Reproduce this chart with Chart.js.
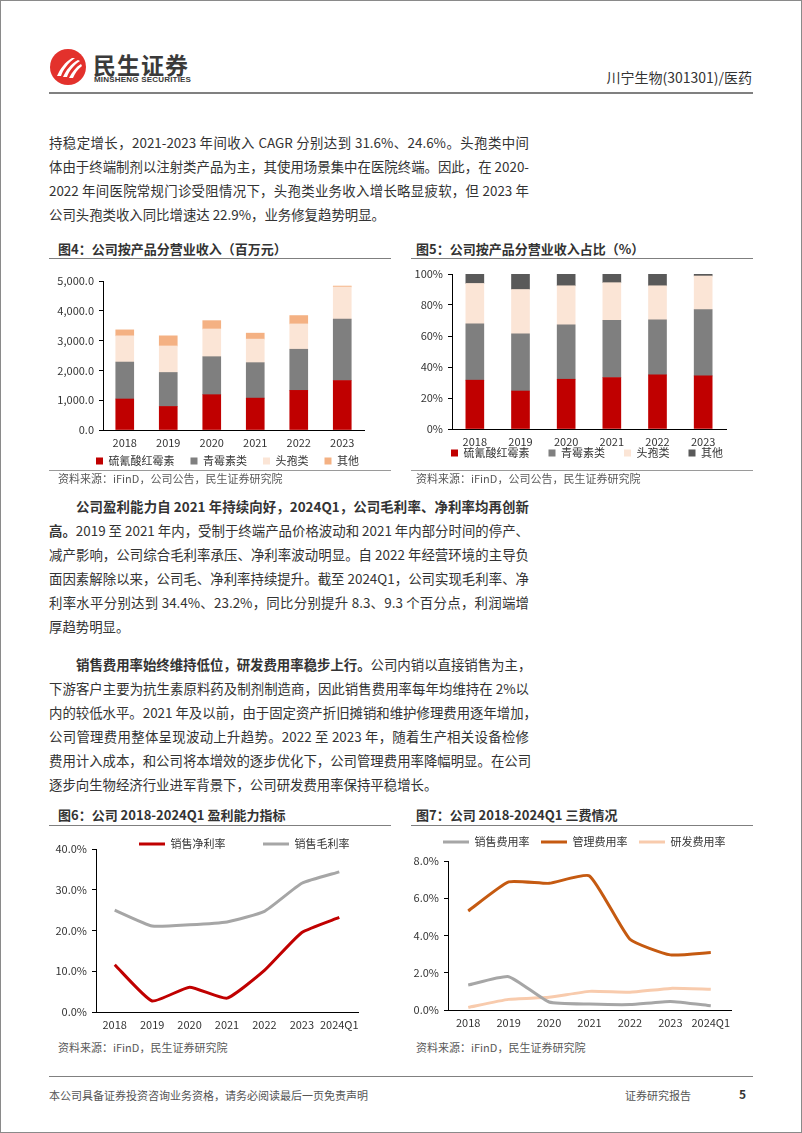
<!DOCTYPE html>
<html lang="zh-CN">
<head>
<meta charset="UTF-8">
<title>川宁生物(301301)/医药</title>
<script src="https://cdn.jsdelivr.net/npm/chart.js"></script>
<style>
    body { margin: 0; background: #fff; font-family: "Noto Sans CJK SC", sans-serif; color: #333; }
    .page { position: relative; width: 802px; height: 1133px; box-sizing: border-box; border: 1px solid #8a8a8a; overflow: hidden; }
    .abs { position: absolute; }
    .brand { left: 92px; top: 50px; font-size: 23px; font-weight: bold; color: #3a3a3a; letter-spacing: 1px; line-height: 26px; }
    .brand-en { left: 93px; top: 74px; font-size: 8px; font-weight: bold; color: #3a3a3a; line-height: 10px; font-family: "Liberation Sans Narrow", "Liberation Sans", sans-serif; letter-spacing: 0.2px; }
    .stock { right: 49px; top: 67px; font-size: 14px; color: #333; line-height: 18px; }
    .rule { height: 0; border-top: 2px solid #808080; }
    .para { left: 48px; width: 480px; font-size: 13.4px; color: #333; }
    .ln { height: 24px; line-height: 24px; white-space: nowrap; text-align: justify; text-align-last: justify; }
    .ln.last { text-align-last: left; }
    .ln.ind { padding-left: 27px; }
    .title { font-size: 13px; font-weight: bold; color: #333; line-height: 16px; }
    .trule { height: 0; border-top: 1.5px solid #7f7f7f; }
    .brule { height: 0; border-top: 1px solid #9a9a9a; }
    .src { font-size: 11px; color: #595959; line-height: 14px; }
    .foot { font-size: 11px; color: #555; line-height: 14px; }
    canvas { position: absolute; }
</style>
</head>
<body>
<div class="page">
    <!-- 页眉 -->
    <svg class="abs" style="left:49px;top:48px" width="36" height="36" viewBox="0 0 36 36">
        <circle cx="18" cy="18" r="18" fill="#e3312c"/>
        <path d="M7 27 C10 20 15 13 22 9 L25 9 C18 14 13 21 11 27 Z" fill="#fff"/>
        <path d="M13 28 C16 21 21 15 28 11 L30 12 C24 16 19 22 17 28 Z" fill="#fff"/>
        <path d="M19 29 C22 23 26 18 31 15 L32 17 C28 20 25 24 23 29 Z" fill="#fff"/>
    </svg>
    <div class="abs brand">民生证券</div>
    <div class="abs brand-en">MINSHENG SECURITIES</div>
    <div class="abs stock">川宁生物(301301)/医药</div>
    <div class="abs rule" style="left:48px;top:91px;width:704px"></div>

    <!-- 正文 1 -->
    <div class="abs para" style="top:129px">
        <div class="ln">持稳定增长，2021-2023 年间收入 CAGR 分别达到 31.6%、24.6%。头孢类中间</div>
        <div class="ln">体由于终端制剂以注射类产品为主，其使用场景集中在医院终端。因此，在 2020-</div>
        <div class="ln">2022 年间医院常规门诊受阻情况下，头孢类业务收入增长略显疲软，但 2023 年</div>
        <div class="ln last">公司头孢类收入同比增速达 22.9%，业务修复趋势明显。</div>
    </div>

    <!-- 图4 / 图5 -->
    <div class="abs title" style="left:57px;top:240px">图4：公司按产品分营业收入（百万元）</div>
    <div class="abs trule" style="left:48px;top:257px;width:342px"></div>
    <div class="abs title" style="left:415px;top:240px">图5：公司按产品分营业收入占比（%）</div>
    <div class="abs trule" style="left:410px;top:257px;width:342px"></div>
    <div class="abs brule" style="left:48px;top:469px;width:342px"></div>
    <div class="abs brule" style="left:410px;top:469px;width:342px"></div>
    <canvas id="fig4" width="342" height="215" style="left:48px;top:261px"></canvas>
    <canvas id="fig5" width="342" height="207" style="left:410px;top:261px"></canvas>
    <div class="abs src" style="left:57px;top:470px">资料来源：iFinD，公司公告，民生证券研究院</div>
    <div class="abs src" style="left:415px;top:470px">资料来源：iFinD，公司公告，民生证券研究院</div>

    <!-- 正文 2 -->
    <div class="abs para" style="top:493px">
        <div class="ln ind"><b>公司盈利能力自 2021 年持续向好，2024Q1，公司毛利率、净利率均再创新</b></div>
        <div class="ln"><b>高。</b>2019 至 2021 年内，受制于终端产品价格波动和 2021 年内部分时间的停产、</div>
        <div class="ln">减产影响，公司综合毛利率承压、净利率波动明显。自 2022 年经营环境的主导负</div>
        <div class="ln">面因素解除以来，公司毛、净利率持续提升。截至 2024Q1，公司实现毛利率、净</div>
        <div class="ln">利率水平分别达到 34.4%、23.2%，同比分别提升 8.3、9.3 个百分点，利润端增</div>
        <div class="ln last">厚趋势明显。</div>
    </div>

    <!-- 正文 3 -->
    <div class="abs para" style="top:651px">
        <div class="ln ind"><b>销售费用率始终维持低位，研发费用率稳步上行。</b>公司内销以直接销售为主，</div>
        <div class="ln">下游客户主要为抗生素原料药及制剂制造商，因此销售费用率每年均维持在 2%以</div>
        <div class="ln">内的较低水平。2021 年及以前，由于固定资产折旧摊销和维护修理费用逐年增加，</div>
        <div class="ln">公司管理费用整体呈现波动上升趋势。2022 至 2023 年，随着生产相关设备检修</div>
        <div class="ln">费用计入成本，和公司将本增效的逐步优化下，公司管理费用率降幅明显。在公司</div>
        <div class="ln last">逐步向生物经济行业进军背景下，公司研发费用率保持平稳增长。</div>
    </div>

    <!-- 图6 / 图7 -->
    <div class="abs title" style="left:57px;top:806px">图6：公司 2018-2024Q1 盈利能力指标</div>
    <div class="abs trule" style="left:48px;top:824px;width:342px"></div>
    <div class="abs title" style="left:415px;top:806px">图7：公司 2018-2024Q1 三费情况</div>
    <div class="abs trule" style="left:410px;top:824px;width:342px"></div>
    <canvas id="fig6" width="342" height="205" style="left:48px;top:829px"></canvas>
    <canvas id="fig7" width="342" height="205" style="left:410px;top:829px"></canvas>
    <div class="abs src" style="left:57px;top:1039px">资料来源：iFinD，民生证券研究院</div>
    <div class="abs src" style="left:415px;top:1039px">资料来源：iFinD，民生证券研究院</div>

    <!-- 页脚 -->
    <div class="abs rule" style="left:48px;top:1075px;width:704px;border-top-width:1.5px"></div>
    <div class="abs foot" style="left:48px;top:1087px">本公司具备证券投资咨询业务资格，请务必阅读最后一页免责声明</div>
    <div class="abs foot" style="left:624px;top:1087px">证券研究报告</div>
    <div class="abs foot" style="left:738px;top:1086px;font-size:12px;font-weight:bold;color:#333">5</div>
</div>

<script>
    // 图4：分产品营业收入（百万元）
    const years = ['2018', '2019', '2020', '2021', '2022', '2023'];
    const revErythro = [1040, 790, 1185, 1070, 1330, 1660];
    const revPenicillin = [1240, 1140, 1275, 1190, 1380, 2060];
    const revCephalo = [880, 890, 930, 790, 850, 1080];
    const revOther = [200, 340, 280, 200, 280, 30];
    const revTicks = [0, 1000, 2000, 3000, 4000, 5000];

    // 图5：分产品营业收入占比（%）
    const shareErythro = [31.5, 24.5, 32.1, 33.2, 34.9, 34.3];
    const sharePenicillin = [36.4, 36.9, 35.1, 36.9, 35.6, 42.7];
    const shareCephalo = [26.0, 28.6, 25.2, 24.3, 21.9, 21.7];
    const shareOther = [6.1, 10.0, 7.6, 5.6, 7.6, 1.3];
    const shareTicks = [0, 20, 40, 60, 80, 100];

    // 图6：盈利能力（%）
    const periods = ['2018', '2019', '2020', '2021', '2022', '2023', '2024Q1'];
    const netMargin = [11.6, 2.7, 6.1, 3.4, 10.2, 19.5, 23.2];
    const grossMargin = [25.0, 21.1, 21.4, 22.1, 24.7, 31.6, 34.4];
    const marginTicks = [0, 10, 20, 30, 40];

    // 图7：三费（%）
    const sellRate = [1.34, 1.79, 0.43, 0.32, 0.29, 0.46, 0.23];
    const adminRate = [5.32, 6.88, 6.80, 7.20, 3.80, 2.96, 3.09];
    const rdRate = [0.14, 0.57, 0.68, 1.00, 0.95, 1.16, 1.11];
    const feeTicks = [0, 2, 4, 6, 8];

    Chart.defaults.font.family = '"Noto Sans CJK SC", sans-serif';
    Chart.defaults.font.size = 11;
    Chart.defaults.color = '#333';
    Chart.defaults.animation = false;

    // 图例：固定占位高度 h，首个色块放在 x，文字中线放在 cy（画布坐标）
    function legendPlace(h, x, cy) {
        return {
            id: 'legendPlace',
            beforeInit(chart) {
                const lg = chart.legend;
                const fit = lg.fit;
                lg.fit = function () { fit.call(lg); lg.height = h; };
            },
            afterLayout(chart) {
                const lg = chart.legend;
                const p = lg.options.labels.padding;
                const x0 = (lg.left + p + lg.right - lg.lineWidths[0]) / 2;
                lg.left += x - x0;
                lg.right += x - x0;
                lg.top = cy - p - 5.5;
                lg.bottom = lg.top + p + 22;
            }
        };
    }

    function yAxis(ticks, width, fmt) {
        return {
            min: ticks[0], max: ticks[ticks.length - 1],
            afterBuildTicks: s => { s.ticks = ticks.map(v => ({ value: v })); },
            afterFit: s => { s.width = width; },
            grid: { drawOnChartArea: false, drawTicks: true, tickLength: 4, color: '#000' },
            border: { color: '#000', width: 1 },
            ticks: { padding: 5, color: '#333', callback: fmt }
        };
    }

    function xAxis(height) {
        return {
            offset: true,
            afterFit: s => { s.height = height; },
            grid: { display: false, drawTicks: false },
            border: { color: '#000', width: 1 },
            ticks: { color: '#333', padding: 6, maxRotation: 0, autoSkip: false }
        };
    }

    function barChart(id, sets, ticks, axisW, fmt, pad, leg) {
        new Chart(document.getElementById(id), {
            type: 'bar',
            data: {
                labels: years,
                datasets: sets.map(s => ({ label: s[0], data: s[1], backgroundColor: s[2], barThickness: 18 }))
            },
            options: {
                responsive: false,
                layout: { padding: pad },
                scales: {
                    x: Object.assign(xAxis(20), { stacked: true }),
                    y: Object.assign(yAxis(ticks, axisW, fmt), { stacked: true })
                },
                plugins: {
                    tooltip: { enabled: false },
                    legend: {
                        position: 'bottom',
                        labels: { boxWidth: 7, boxHeight: 7, padding: leg.gap, color: '#333' }
                    }
                }
            },
            plugins: [legendPlace(leg.h, leg.x, leg.cy)]
        });
    }

    function lineChart(id, sets, ticks, axisW, fmt, pad, xh, leg) {
        new Chart(document.getElementById(id), {
            type: 'line',
            data: {
                labels: periods,
                datasets: sets.map(s => ({
                    label: s[0], data: s[1], borderColor: s[2], backgroundColor: s[2],
                    borderWidth: 3, pointRadius: 0, tension: 0.15, fill: false
                }))
            },
            options: {
                responsive: false,
                layout: { padding: pad },
                scales: { x: xAxis(xh), y: yAxis(ticks, axisW, fmt) },
                plugins: {
                    tooltip: { enabled: false },
                    legend: {
                        position: 'top',
                        labels: {
                            boxWidth: 26, boxHeight: 3, padding: leg.gap, color: '#333',
                            generateLabels: chart => Chart.defaults.plugins.legend.labels.generateLabels(chart)
                                .map(l => Object.assign(l, { lineWidth: 0, fillStyle: l.strokeStyle }))
                        }
                    }
                }
            },
            plugins: [legendPlace(leg.h, leg.x, leg.cy)]
        });
    }

    const fmtThousand = v => v.toLocaleString('en-US', { minimumFractionDigits: 1, maximumFractionDigits: 1 });

    barChart('fig4', [
        ['硫氰酸红霉素', revErythro, '#c00000'],
        ['青霉素类', revPenicillin, '#7f7f7f'],
        ['头孢类', revCephalo, '#fbe5d6'],
        ['其他', revOther, '#f4b183']
    ], revTicks, 54, fmtThousand, { top: 19, right: 27, left: 0, bottom: 0 },
        { h: 27, gap: 16, x: 47, cy: 199 });

    barChart('fig5', [
        ['硫氰酸红霉素', shareErythro, '#c00000'],
        ['青霉素类', sharePenicillin, '#7f7f7f'],
        ['头孢类', shareCephalo, '#fbe5d6'],
        ['其他', shareOther, '#595959']
    ], shareTicks, 41, v => v + '%', { top: 12, right: 27, left: 0, bottom: 0 },
        { h: 20, gap: 19, x: 40, cy: 191 });

    lineChart('fig6', [
        ['销售净利率', netMargin, '#c00000'],
        ['销售毛利率', grossMargin, '#a6a6a6']
    ], marginTicks, 47, v => v.toFixed(1) + '%', { top: 0, right: 33, left: 0, bottom: 0 }, 23,
        { h: 19, gap: 37.5, x: 90, cy: 14 });

    lineChart('fig7', [
        ['销售费用率', sellRate, '#a6a6a6'],
        ['管理费用率', adminRate, '#c55a11'],
        ['研发费用率', rdRate, '#f8cbad']
    ], feeTicks, 37, v => v.toFixed(1) + '%', { top: 0, right: 22, left: 0, bottom: 0 }, 25,
        { h: 31, gap: 11.5, x: 32, cy: 12 });
</script>
</body>
</html>
